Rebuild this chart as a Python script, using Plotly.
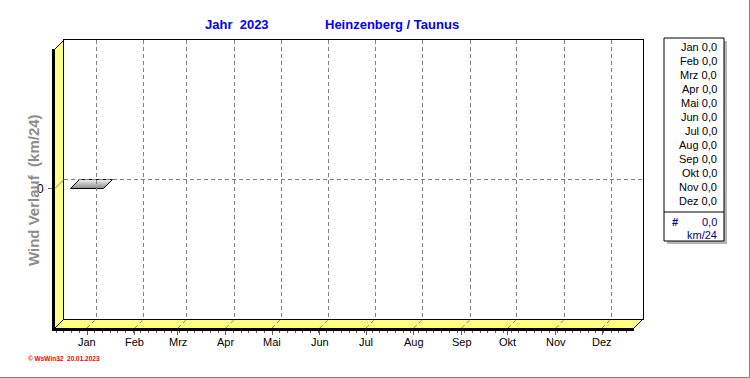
import plotly.graph_objects as go

# ---------------- data ----------------
months = ["Jan", "Feb", "Mrz", "Apr", "Mai", "Jun", "Jul", "Aug", "Sep", "Okt", "Nov", "Dez"]
days_in_month = [31, 28, 31, 30, 31, 30, 31, 31, 30, 31, 30, 31]
monthly_values = [0.0] * 12            # Wind km/24 per month (legend table)
bar_months = ["Jan"]                   # months with a plotted bar
bar_values = [0.0]
total_value = 0.0
year = "2023"
station = "Heinzenberg / Taunus"
footer = "© WsWin32  20.01.2023"

# ---------------- geometry (pixels) ----------------
W, H = 750, 378
FX0, FX1, FY0, FY1 = 55, 634, 49, 328      # front plane
D = 9                                       # depth offset
BX0, BX1, BY0, BY1 = FX0 + D, FX1 + D, FY0 - D, FY1 - D
XR = [-20.75, 354.75]                       # day axis range
YR = [-1, 1]
YELLOW = "#ffff80"
DASH = "4px,3px"

def px(x):
    return x / W

def py(y):
    return 1 - y / H

month_start = []
acc = 0
for d in days_in_month:
    month_start.append(acc)
    acc += d

px_per_day = (FX1 - FX0) / (XR[1] - XR[0])
px_per_unit = (FY1 - FY0) / (YR[1] - YR[0])
DX = D / px_per_day
DY = D / px_per_unit

fig = go.Figure()

# bars (3D top face of a flat bar)
half_w = 16.5 / px_per_day
for m, v in zip(bar_months, bar_values):
    c = month_start[months.index(m)]
    xs = [c - half_w, c + half_w, c + half_w + DX, c - half_w + DX, c - half_w]
    ys = [v, v, v + DY, v + DY, v]
    fig.add_trace(go.Scatter(
        x=xs, y=ys, mode="lines", fill="toself",
        fillgradient=dict(type="vertical", colorscale=[[0, "#8a8a8a"], [1, "#f2f2f2"]]),
        line=dict(color="black", width=1), hoverinfo="skip", showlegend=False,
        xaxis="x", yaxis="y"))

# invisible trace for back plane axes
fig.add_trace(go.Scatter(x=[XR[0]], y=[YR[0]], mode="markers", marker=dict(opacity=0),
                         xaxis="x2", yaxis="y2", showlegend=False, hoverinfo="skip"))

minor_ticks = [t for t in range(-20, 355, 5) if t not in month_start]

fig.update_layout(
    width=W, height=H, margin=dict(l=0, r=0, t=0, b=0),
    paper_bgcolor="white", plot_bgcolor="rgba(0,0,0,0)",
    font=dict(family="Liberation Sans, Arial, sans-serif", size=11, color="black"),
    showlegend=False,
    xaxis=dict(domain=[px(FX0), px(FX1)], range=XR, anchor="y",
               showgrid=False, zeroline=False,
               showline=True, linewidth=3, linecolor="black",
               tickmode="array", tickvals=month_start, ticktext=[""] * len(months),
               ticks="outside", ticklen=4, tickcolor="#606060", tickwidth=1,
               minor=dict(tickmode="array", tickvals=minor_ticks, ticks="outside",
                          ticklen=2, tickcolor="#606060", showgrid=False)),
    yaxis=dict(domain=[py(FY1), py(FY0)], range=YR, anchor="x",
               showgrid=False, zeroline=False,
               showline=True, linewidth=3, linecolor="black",
               tickmode="array", tickvals=[0], ticktext=["0"],
               ticks="outside", ticklen=4, tickcolor="#606060",
               ticklabelstandoff=2,
               tickfont=dict(size=12, color="black")),
    xaxis2=dict(domain=[px(BX0), px(BX1)], range=XR, anchor="y2",
                showgrid=True, gridcolor="#808080", griddash=DASH, gridwidth=1,
                tickmode="array", tickvals=month_start, showticklabels=False, ticks="",
                zeroline=False, showline=True, mirror=True, linecolor="black", linewidth=1),
    yaxis2=dict(domain=[py(BY1), py(BY0)], range=YR, anchor="x2",
                showgrid=True, gridcolor="#808080", griddash=DASH, gridwidth=1,
                tickmode="array", tickvals=[0], showticklabels=False, ticks="",
                zeroline=False, showline=True, mirror=True, linecolor="black", linewidth=1),
)

shapes = []
# left wall and floor
shapes.append(dict(type="path", xref="paper", yref="paper", layer="below",
                   path=f"M {px(FX0)},{py(FY0)} L {px(BX0)},{py(BY0)} L {px(BX0)},{py(BY1)} L {px(FX0)},{py(FY1)} Z",
                   fillcolor=YELLOW, line=dict(width=0)))
shapes.append(dict(type="path", xref="paper", yref="paper", layer="below",
                   path=f"M {px(FX0)},{py(FY1)} L {px(BX0)},{py(BY1)} L {px(BX1)},{py(BY1)} L {px(FX1)},{py(FY1)} Z",
                   fillcolor=YELLOW, line=dict(width=0)))
# diagonal edges
for (x0, y0, x1, y1) in [(FX0, FY0, BX0, BY0), (FX0, FY1, BX0, BY1), (FX1, FY1, BX1, BY1)]:
    shapes.append(dict(type="line", xref="paper", yref="paper",
                       x0=px(x0), y0=py(y0), x1=px(x1), y1=py(y1),
                       line=dict(color="black", width=1)))
# gridline extensions over floor
for m in month_start:
    shapes.append(dict(type="line", xref="x", yref="paper",
                       x0=m, y0=py(FY1), x1=m + DX, y1=py(BY1),
                       line=dict(color="#808080", width=1, dash=DASH)))
# zero line extension over left wall
shapes.append(dict(type="line", xref="paper", yref="y",
                   x0=px(FX0), y0=0, x1=px(BX0), y1=DY,
                   line=dict(color="#808080", width=1)))

# legend box
LX0, LX1, LY0, LY1, SEP = 664, 724, 38, 241, 212
shapes.append(dict(type="rect", xref="paper", yref="paper",
                   x0=px(LX0 + 3), y0=py(LY1 + 3), x1=px(LX1 + 3), y1=py(LY0 + 3),
                   fillcolor="#b4b4b4", line=dict(width=0)))
shapes.append(dict(type="rect", xref="paper", yref="paper",
                   x0=px(LX0), y0=py(LY1), x1=px(LX1), y1=py(LY0),
                   fillcolor="white", line=dict(color="black", width=1)))
shapes.append(dict(type="line", xref="paper", yref="paper",
                   x0=px(LX0), y0=py(SEP), x1=px(LX1), y1=py(SEP),
                   line=dict(color="black", width=1)))
# outer frame
shapes.append(dict(type="line", xref="paper", yref="paper",
                   x0=px(749.5), y0=py(0), x1=px(749.5), y1=py(377.5),
                   line=dict(color="#808080", width=1)))
shapes.append(dict(type="line", xref="paper", yref="paper",
                   x0=px(0), y0=py(377.5), x1=px(749.5), y1=py(377.5),
                   line=dict(color="#808080", width=1)))
fig.update_layout(shapes=shapes)

def fmt(v):
    return f"{v:.1f}".replace(".", ",")

ann = []
BLUE = "#0000ff"
NAVY = "#000080"
# month labels along the front axis
for m, s in zip(months, month_start):
    ann.append(dict(text=m, x=s, y=py(342), xref="x", yref="paper",
                    showarrow=False, xanchor="center", yanchor="middle",
                    font=dict(size=11, color="black")))
ann.append(dict(text=f"Jahr  {year}", x=px(237), y=py(24), xref="paper", yref="paper",
                showarrow=False, xanchor="center", yanchor="middle",
                font=dict(size=13, color=BLUE, family="Liberation Sans Narrow, Liberation Sans, Arial", weight="bold")))
ann.append(dict(text=station, x=px(392), y=py(24), xref="paper", yref="paper",
                showarrow=False, xanchor="center", yanchor="middle",
                font=dict(size=13, color=BLUE, family="Liberation Sans Narrow, Liberation Sans, Arial", weight="bold")))
ann.append(dict(text="Wind Verlauf  (km/24)", x=px(33), y=py(190), xref="paper", yref="paper",
                showarrow=False, textangle=-90, xanchor="center", yanchor="middle",
                font=dict(size=15, color="#8c8c8c", weight="bold")))
for i, (m, v) in enumerate(zip(months, monthly_values)):
    ann.append(dict(text=f"{m} {fmt(v)}", x=px(719), y=py(47 + 14 * i), xref="paper", yref="paper",
                    showarrow=False, xanchor="right", yanchor="middle",
                    font=dict(size=11, color="black")))
ann.append(dict(text="#", x=px(675), y=py(222), xref="paper", yref="paper",
                showarrow=False, xanchor="center", yanchor="middle",
                font=dict(size=11, color=NAVY, weight="bold")))
ann.append(dict(text=fmt(total_value), x=px(719), y=py(222), xref="paper", yref="paper",
                showarrow=False, xanchor="right", yanchor="middle",
                font=dict(size=11, color=NAVY)))
ann.append(dict(text="km/24", x=px(719), y=py(235), xref="paper", yref="paper",
                showarrow=False, xanchor="right", yanchor="middle",
                font=dict(size=11, color=NAVY)))
ann.append(dict(text=footer, x=px(26), y=py(358), xref="paper", yref="paper",
                showarrow=False, xanchor="left", yanchor="middle",
                font=dict(size=6.5, color="#ff0000", weight="bold")))
fig.update_layout(annotations=ann)

fig.write_html("out.html")
